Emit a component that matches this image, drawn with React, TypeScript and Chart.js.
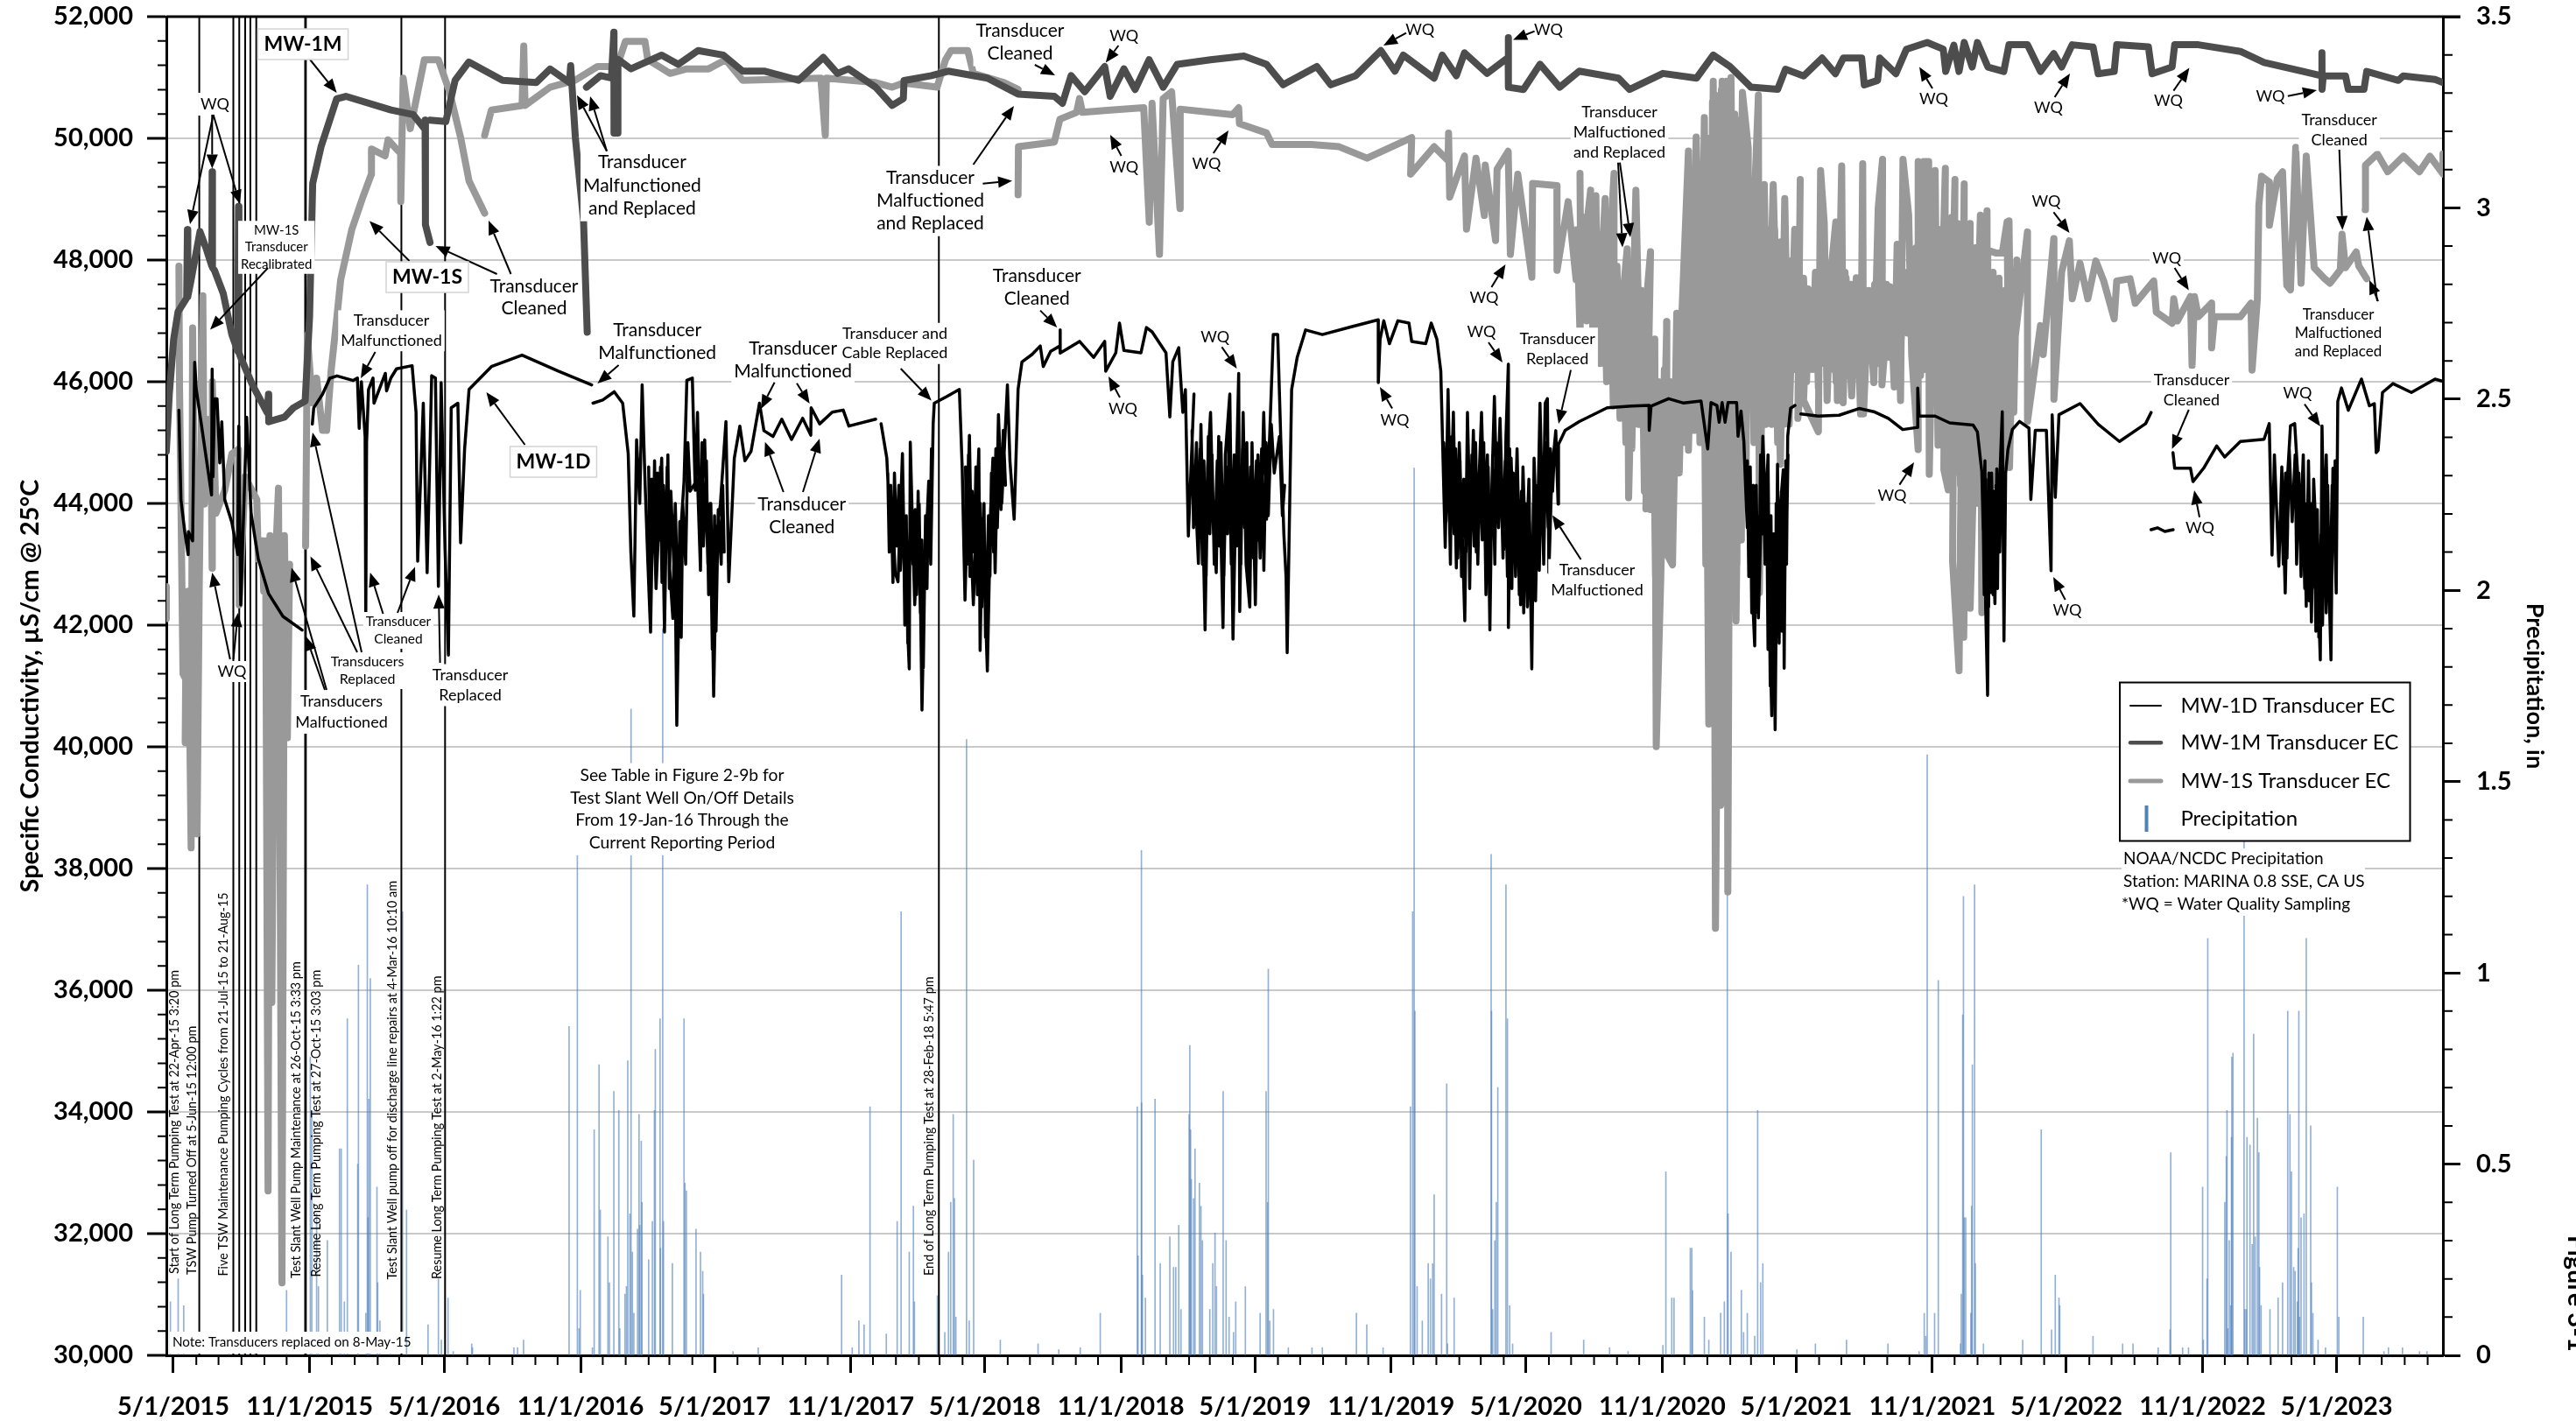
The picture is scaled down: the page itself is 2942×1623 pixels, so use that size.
import React, { useEffect, useRef } from "react";
import { Chart, registerables } from "chart.js";

Chart.register(...registerables);

// x values are days since 5/1/2015
const xMinDay = -9.46;
const xMaxDay = 3065.6;
const xTickDays = [0, 184, 366, 550, 731, 915, 1096, 1280, 1461, 1645, 1827, 2011, 2192, 2376, 2557, 2741, 2922];
const xTickLabels = ["5/1/2015", "11/1/2015", "5/1/2016", "11/1/2016", "5/1/2017", "11/1/2017", "5/1/2018", "11/1/2018", "5/1/2019", "11/1/2019", "5/1/2020", "11/1/2020", "5/1/2021", "11/1/2021", "5/1/2022", "11/1/2022", "5/1/2023"];
const eventDays = [-9, 35, 81, 89, 97, 104, 112, 178, 179, 308, 367, 1034];

const mw1dSeg2015a = [[7.5,45531],[10.2,44063],[15.4,43536],[20,43160],[20.3,43536],[26,43386],[28.8,46321],[31,45870],[51.6,44139],[52.4,46209],[53.5,44440],[55.6,45719],[59,45719],[62.7,44666],[65.4,45343],[69.4,44063],[79,43687],[87,43160],[88.3,45268],[91,42332],[99,45418],[105,43838],[114.7,43085],[128.5,42520],[148,42144],[173.9,41918]];
const mw1dSeg2015b = [[187.7,45305],[189.6,45570],[201.5,45795],[211.3,46058],[221,46096],[243,46020],[248.6,46061],[251,45233],[254,46000],[259,45100],[259.9,42110],[261,45000],[263.6,45873],[269.7,46061],[271,45647],[286.3,46137],[288,45850],[293.8,46061],[301.4,46212],[322.5,46264],[327.8,45497],[330,43050],[337.6,45647],[342.8,42862],[348.9,46099],[354,46061],[358,42636],[361.7,45986],[367,43240],[371.5,41507],[375.3,45572],[384.3,45647],[388,43352],[393.4,44895],[399.4,45873],[429.6,46249],[471,46437],[520,46174],[565,45948]];
const mw1dSeg2016 = [[566.8,45647],[580,45700],[595.5,45835],[606.9,45647],[614.4,44819],[618,43200],[622,42147],[625.7,45045],[630,44000],[633.2,45948],[637,44400],[641,43000],[644.6,41884],[648,44300],[652,42600],[659.6,44744],[663.4,41884],[667,44600],[670,43000],[674.7,42110],[677,43800],[680,40353],[684,43300],[689.8,44367],[693.6,46024],[701,46061],[704.9,44217],[708,45497],[711,43620],[717.7,45045],[722,43000],[726,44000],[729.8,40830],[734,43500],[738.9,43991],[746.4,45346],[750.2,42712],[757.7,44744],[765.2,45271],[772,44700],[780.3,44857],[791.7,45647],[797.7,45196],[810,45100],[821.8,45384],[835,45050],[850,45400],[861,45121],[861.5,45572],[873,45308],[890,45500],[904.8,45534],[912.4,45271],[948.6,45384]];
const mw1dSeg2017 = [[956,45308],[963.7,44744],[967,43900],[971,43991],[975,42862],[978.8,42712],[984.8,44819],[987,43300],[990,42486],[994,41282],[995.4,45007],[998,43800],[1001.4,42335],[1007.4,43991],[1011.2,40604],[1015,42862],[1020.3,44367],[1023,43000],[1026.3,45308],[1027.8,45647],[1045,45760],[1061.7,45873],[1065.5,44593],[1069.3,42411],[1075.3,45120],[1078,43200],[1080.6,42335],[1088,44894],[1089.7,41583],[1093,43750],[1099.5,41244],[1104,43900],[1107,44744],[1110,42860],[1114.5,45459],[1119,44000],[1126.6,45948],[1130,44700],[1135.7,43741],[1141,45873],[1146.2,46325],[1160,46450],[1171,46588],[1175,46250],[1185,46500],[1197.5,46588],[1197.8,46852],[1198,46470],[1224,46663],[1243,46400],[1258,46663],[1259.4,46174],[1273,46475],[1278,46964],[1284,46513],[1307,46475],[1314.4,46890],[1322,46820],[1340.8,46475],[1346,45421],[1350,46330],[1358,46560],[1363.5,45497],[1367,45870],[1371,43464],[1378.6,45798]];
const mw1dSeg2018 = [[1380,44300],[1384.6,43013],[1388,45300],[1393.6,41921],[1397,44600],[1401,45497],[1405,43500],[1408.7,42862],[1412,45100],[1417.8,41959],[1421,44800],[1427,45798],[1431.3,41770],[1435,44000],[1439,46137],[1440.4,42223],[1445,45497],[1449,43000],[1454,42298],[1457,45000],[1461.5,42335],[1465,44800],[1468,43100],[1472.8,45497],[1476.6,43740],[1482,45500],[1485.7,46776],[1491.7,46776],[1496,45000],[1500,43500],[1503,42787],[1504.5,41546],[1510.5,45873],[1518,46400],[1529.4,46851],[1552,46776],[1590,46900],[1627.5,47017],[1627.6,45986],[1630,46700],[1635,47002],[1642.6,46625],[1654,47002],[1669,46964],[1672.7,46663],[1691.6,46626],[1699.1,46964],[1706.7,46700],[1712,46174],[1718,43276],[1721.8,45873],[1725,43800],[1729,45500],[1733,42938],[1737,45000],[1741,43500],[1744.4,42072],[1748,45497],[1752,43400],[1756,45200],[1760,43200],[1767,45497],[1771,43700],[1775,44800],[1778.3,41921],[1781,44300],[1784.4,45760],[1788,43900],[1792,45400],[1797,43238],[1800,45100],[1803.2,46287],[1803.3,41959],[1807,44744],[1811,43100],[1815,44900],[1819.8,42335],[1823,44600],[1827,43000],[1831,44400],[1834.9,41282],[1838,44744],[1842,43200],[1846,45647],[1850,43500],[1853,45647],[1856,45722],[1858,42862],[1862,44500],[1867.3,45196],[1870.4,43991],[1871,44970],[1880,45200],[1899,45346],[1936.7,45572],[1970,45600],[1993.3,45610],[1993.5,45200],[1996,45600],[2019.7,45722],[2040,45650],[2063.5,45685],[2068,45290],[2072.5,44895],[2077,45657],[2085,45610],[2088,45335],[2092,45657],[2096,45335],[2100,45657],[2111.6,45657],[2113.5,45105],[2117.5,45519],[2121.4,45013],[2123.4,44370],[2126,43600],[2128,44100],[2131.3,44186],[2133,42500],[2136,41659],[2138,44300],[2141,42119],[2143.5,43300],[2147,45105],[2151,43818],[2154,44800],[2156,42100],[2159,40510],[2161,43500],[2163.6,40280],[2166.8,44645],[2169,41700],[2171,44000],[2174.6,44554],[2175.8,41291],[2178,44700],[2179,43000],[2180.6,45105],[2184.5,45565],[2190.4,45610]];
const mw1dSeg2020 = [[2198.3,45471],[2222,45435],[2250,45450],[2277,45560],[2296.9,45508],[2316.6,45398],[2336,45214],[2356,45250],[2356.2,45897],[2358,45435],[2379.7,45435],[2399.4,45324],[2431,45288],[2436.8,45178],[2442.8,44517],[2444.7,43563],[2447,44700],[2448,42300],[2450.6,40847],[2452.4,44500],[2454.6,42535],[2456,44500],[2458,43200],[2460.5,42352],[2463,44570],[2465,43300],[2467,44400],[2470.4,45508],[2472.7,41742],[2475,44500],[2478,44884],[2484,45214],[2493.7,45348],[2506.5,45238],[2509,44066],[2515,45200],[2530,45200],[2536.3,42894],[2537.8,45458],[2542,44100],[2547,45458],[2575.4,45641],[2600,45300],[2628.7,45018],[2664,45311],[2671.4,45494]];
const mw1dSeg2022a = [[2671.4,43568],[2680,43600],[2690,43540],[2701.2,43568]];
const mw1dSeg2022b = [[2701,44835],[2703.3,44579],[2724.6,44579],[2728,44359],[2742.4,44579],[2760,44945],[2770.8,44762],[2792,45018],[2824,45055],[2831,45311],[2834.8,43150],[2838,44800],[2844,42967],[2848,44600],[2852.6,42527],[2856,44500],[2859.7,45275],[2865.4,45311],[2869,44579],[2873,43500],[2877,44800],[2881,42308],[2884,44700],[2888,42051],[2891,44400],[2895,43300],[2900,41429],[2902.3,45275],[2905,43400],[2908,44800],[2911,43000],[2914.4,41429],[2917,44579],[2921.5,42527],[2923.6,45678],[2928.6,45897],[2937.8,45531],[2955.6,46044],[2966.3,45604],[2973,45640],[2975.5,44835],[2978,44870],[2984,45824],[2998.2,45970],[3023,45824],[3055,46044],[3065.7,46007]];
const mw1dBand2016 = [[642,44600],[644,42800],[646,44400],[648,43200],[650,44700],[652,42900],[654,44500],[656,43400],[658,44600],[660,42700],[662,44300],[665,43100],[668,44800],[670,42600],[672,44200],[676,43000],[678,44000],[682,42000],[684,43700],[686,41800],[688,44000],[692,43000],[695,45000],[698,44200],[708,44400],[712,42900],[714,45000],[716,43300],[720,44700],[723,42500],[725,44000],[728,41600],[731,43800],[733,41900],[736,43900],[740,43000],[742,44300],[744,43200]];
const mw1dBand2017a = [[965,44500],[967,43200],[969,44300],[972,42700],[974,44500],[977,43300],[980,44300],[982,42900],[986,44000],[988,42000],[990,43800],[992,41700],[996,44300],[999,43000],[1002,43900],[1004,42500],[1006,44200],[1009,42200],[1011,43400],[1013,41300],[1016,43800],[1018,42600],[1020,44300],[1022,43200],[1024,44900]];
const mw1dBand2017b = [[1070,44600],[1072,43000],[1074,44800],[1076,42800],[1079,44200],[1082,43200],[1084,44600],[1086,42500],[1090,44000],[1092,42300],[1095,44000],[1097,41800],[1101,43800],[1103,42800],[1105,44500],[1108,43200],[1111,44900],[1113,43600],[1116,45000],[1118,43900],[1121,45200],[1124,44300]];
const mw1dBand2018 = [[1376,45200],[1378,43600],[1382,45000],[1385,43400],[1387,44900],[1390,43000],[1392,44700],[1395,42800],[1398,45100],[1400,43500],[1403,44800],[1406,43000],[1410,44700],[1413,43300],[1415,45000],[1419,42800],[1422,44600],[1424,43500],[1426,45200],[1429,43000],[1433,44800],[1436,43300],[1438,45500],[1442,43000],[1444,44900],[1447,43600],[1450,45000],[1452,42800],[1455,44600],[1459,43100],[1463,44700],[1466,43400],[1470,44900],[1473,42900],[1476,45000],[1479,43800],[1483,45300],[1487,44500],[1494,45100],[1498,43800],[1501,44300]];
const mw1dBand2019 = [[1716,45000],[1719,43700],[1722,44800],[1725,43000],[1727,45100],[1730,43500],[1732,44900],[1735,43100],[1738,44700],[1740,42800],[1743,44400],[1746,43200],[1749,44900],[1751,42600],[1754,44800],[1757,43300],[1759,45000],[1762,43000],[1765,44700],[1768,43400],[1770,45000],[1773,42500],[1776,44600],[1779,42700],[1782,44800],[1785,43000],[1787,45000],[1790,43600],[1793,44600],[1796,43100],[1799,44700],[1802,42800],[1805,44900],[1808,42600],[1810,44500],[1813,42800],[1816,44300],[1818,42500],[1821,44200],[1824,42200],[1826,44000],[1829,42300],[1832,43700],[1835,41800],[1837,44000],[1840,42400],[1843,44300],[1845,42900],[1848,44700],[1851,43000],[1854,45000],[1857,43600],[1860,44900],[1863,44200],[1866,45000]];
const mw1dBand2020 = [[2126,44700],[2128,42800],[2130,44600],[2132,42200],[2134,44300],[2137,42200],[2139,43800],[2142,42800],[2144,44800],[2146,43500],[2148,44500],[2150,43000],[2152,44400],[2154,41600],[2155,43500],[2157,41000],[2158,43800],[2160,40800],[2162,43500],[2164,41300],[2165,44000],[2167,41900],[2168,43800],[2170,42300],[2172,44200],[2173,41900],[2175,43000],[2177,44300],[2179,43400],[2181,44800]];
const mw1dBand2021 = [[2444,44300],[2446,42500],[2448,44400],[2449,42000],[2451,44000],[2452,42300],[2453,44200],[2455,42800],[2456,43900],[2458,42500],[2459,44200],[2461,43000],[2462,44300],[2464,42600],[2465,44000],[2467,43200],[2469,44600],[2471,43900]];
const mw1dBand2023 = [[2848,43900],[2850,43000],[2853,44500],[2855,43100],[2858,44900],[2862,43700],[2866,44800],[2868,43000],[2871,44500],[2874,42800],[2876,44300],[2879,42600],[2882,44000],[2885,42400],[2887,44000],[2889,42600],[2892,43800],[2894,41900],[2896,43900],[2898,41800],[2901,43500],[2903,42000],[2906,44300],[2908,42200],[2910,44300],[2912,42500],[2914,43000],[2916,44300],[2918,43400],[2920,44700]];

const mw1mSeg2015 = [[-9.5,44854],[-5.5,45795],[0.4,46700],[6.3,47150],[18,47375],[19,48500],[19.5,47400],[24,47676],[36,48467],[44,48200],[52,47900],[52.4,49450],[52.8,47880],[55.6,47827],[67.4,47450],[79,46773],[87,46500],[88,48880],[88.5,46480],[91,46397],[107,45945],[126.6,45494],[128.5,45795],[128.8,45343],[150,45418],[162,45570],[178,45682],[184,47074],[188.2,49260],[199.5,49862],[220.6,50650],[233,50690],[294,50465],[324,50390],[339,50160],[340,50300],[340.5,48580],[346.6,48290]];
const mw1mSeg2016 = [[346.6,50300],[368,50276],[380.6,50955],[399,51255],[444.7,50954],[490,50916],[508.8,51140],[535,50916],[536.7,51195],[543,50013],[554,48658],[559,46814]];
const mw1mSeg2017 = [[558,50840],[577,51030],[591.7,50990],[595,51744],[595.2,50088],[600,50088],[600.5,51300],[618,51142],[659.6,51368],[682,51217],[708.7,51443],[742.6,51368],[769,51104],[799,51104],[844.4,50954],[878,51330],[897,51067],[912,51142],[948.6,50840],[971,50540],[986,50653],[987,50950],[1024,51030],[1046.6,51104],[1099.5,50990],[1141,50728],[1190,50690],[1201,50577],[1212.6,51030],[1231,50766],[1258,51180],[1265.4,50690],[1284,51142],[1299,50803],[1318,51292],[1337,50840],[1356,51217],[1401,51292],[1446,51353],[1476.6,51217],[1499,50880],[1544.5,51180],[1563.4,50880],[1597,51030],[1631,51443],[1650,51104],[1661.4,51368],[1703,50990],[1714,51368],[1733,51030],[1744,51405],[1774.5,51067],[1803,51330],[1803.2,51654],[1803.4,50840],[1823.6,50803],[1846,51217],[1872.6,50840],[1899,51104],[1952,50990],[1967,50803],[2012,51067],[2057.5,50990],[2080,51368],[2102.7,51180],[2131,50840]];
const mw1mSeg2021 = [[2131,50842],[2167,50806],[2177.5,51135],[2202,51025],[2227,51319],[2245,51062],[2255.7,51319],[2280.5,51319],[2284,50879],[2302,50952],[2305,51319],[2326.7,51062],[2341,51465],[2369,51575],[2390.7,51465],[2394,51099],[2405,51530],[2412,51099],[2419,51575],[2429.7,51172],[2436.8,51575],[2451,51172],[2472.4,51099],[2479.5,51538],[2504.4,51538],[2522,51099],[2540,51392],[2550.6,51172],[2564.8,51538],[2593,51502],[2600,51062],[2621.6,51099],[2625,51538],[2667.8,51502],[2672.8,51062],[2699.8,51172],[2703.3,51538],[2735.3,51538],[2792,51429],[2824,51245],[2877,51099],[2902,51026],[2902.2,51407],[2902.4,50806],[2904,51026],[2934,51026],[2937.8,50806],[2959,50806],[2962.7,51099],[3005.4,50952],[3012,51026],[3055,50967],[3065.7,50916]];

const mw1sSeg2015a = [[-9.5,42633],[-9.5,42106]];
const mw1sSeg2015b = [[7.5,47900],[8.3,45945],[13,41200],[16.1,41128],[17,41700],[16,40070],[20,42558],[24,38340],[26,46886],[32,38570],[35,42700],[39.8,47413],[41.8,43988],[45.7,45380],[51.6,44000],[52.4,42935],[52.6,46000],[57.5,43838],[69.4,44214],[79,44816],[88,44890],[89,42332],[97,44440],[103,44290],[112.7,44063],[114.7,43085],[120.6,43386],[122,42558],[124.6,43386],[127.9,32700],[130.5,43470],[133,35800],[137,42800],[142,44250],[146.7,31190],[150,43470],[154,40150],[157,43000]];
const mw1sSeg2015c = [[178.6,43300],[181,46770],[187.6,45650],[193.5,46060],[201.5,45200],[207,45200],[213,46170],[221,47075],[226,47676],[241,48500],[256,49035],[267.4,49410],[267.6,49825],[286,49712],[290,49975],[307,49750],[307.2,48960],[310.4,50990],[320,50160],[339,51292],[358,51292],[373,50766],[388,50013],[399.4,49300],[420.5,48770]];
const mw1sSeg2016 = [[420.5,50050],[429.6,50465],[471,50540],[473.3,51518],[475,50540],[508.8,50840],[542.7,50954],[572.9,51180],[599.3,51180],[610.6,51593],[637,51593],[640.8,51292],[671,51067],[693.6,51142],[723,51142],[746,51292],[769,50954],[874.6,50990],[880.6,50050],[882,50990],[948.6,50916],[971,50841],[986,50910],[1031.6,50841],[1043,51292],[1050.4,51443],[1073,51443],[1080.6,51067],[1122,50916],[1141,50803]];
const mw1sSeg2018 = [[1141,49072],[1141.5,49862],[1190,49938],[1197.5,50314],[1220,50427],[1224,50653],[1228,50427],[1265.4,50465],[1310.7,50502],[1318.2,48620],[1322,50577],[1332,48093],[1337,50653],[1348.4,50766],[1359.7,48846],[1360,50480],[1431,50389],[1439,50502],[1440,50240],[1476.6,50088],[1484,49900],[1537,49900],[1574.7,49862],[1612.4,49674],[1672.7,50013],[1671.2,49411],[1703,49862],[1721.8,49636],[1722.5,50088],[1724,49034],[1744,49712],[1746.7,48508],[1759.5,49674],[1770.8,48733],[1772,49560],[1786,48320],[1788,49490],[1803,49787],[1806,48093],[1816,49411],[1835,47718],[1836,49260],[1868.8,49223],[1869,47830],[1884,48959],[1894.7,47678]];
const mw1sSeg2020a = [[1900,49424],[1901,47678],[1914.4,49149],[1904.5,47678],[1921.5,49057],[1924,46667],[1934,49011],[1932,46300],[1946,49424],[1946,45748],[1963.7,48184],[1965.7,44094],[1975.5,49149],[1981,46024],[1995.3,48138],[1989,43910],[2001,46700],[2003,40005],[2009,42720],[2017.3,46989],[2017,43175],[2025,42991],[2030.7,47127],[2030.7,45000],[2046.5,49792],[2046.5,44875],[2057,50022],[2064,46346],[2068,50343],[2074,40373],[2080,50940],[2083,37018],[2092,50940],[2090,39040],[2098,50940],[2099.7,37615],[2104,51000],[2110.8,42070],[2119.4,50757],[2127.3,49838],[2127.3,46300],[2141,50711],[2142.3,42532],[2149,49240],[2153,45600],[2161,49240],[2170.7,44645],[2176.6,49011],[2182.5,45300],[2190,48505]];
const mw1sSeg2020b = [[2197.5,49325],[2194.3,45398],[2208,47526],[2202,45691],[2222,45177],[2225,49472],[2230,48600],[2233.8,45691],[2239.7,47900],[2245.6,48627],[2247.6,45691],[2253.5,49545],[2255.5,45655],[2259.4,47710],[2267,45765],[2273.2,47710],[2279,45471],[2281.9,49582],[2283,45471],[2289.8,47453],[2296.9,45985],[2302.8,48848],[2308.7,49655],[2307.9,45948],[2318.5,47563],[2324.5,45912],[2328.4,48260],[2333,45691],[2336.3,49655],[2344,48737],[2348.1,46425],[2356.8,44884],[2356.8,49618],[2360,46100],[2364,49618],[2371,49618],[2371.8,44480],[2379.7,49472],[2383.6,44957],[2393.5,49508],[2391.5,44554],[2397.4,44223],[2406.5,49325],[2403.3,43049],[2412,41250],[2419,49251],[2418.3,41801],[2427,48600],[2427,42278],[2440.8,48737],[2442.8,42205],[2449.8,48811],[2450.6,45398],[2450.8,48160],[2462.5,48114],[2470.4,48114],[2476.9,48627],[2480.2,44590],[2486.1,47820]];
const mw1sSeg2021 = [[2479.5,48645],[2482,46117],[2504.4,48462],[2504.5,45348],[2522,46923],[2525.7,46447],[2540,48352],[2540.2,45714],[2550.6,47802],[2561,48315],[2565,47363],[2575.4,47949],[2586,47363],[2596.8,47985],[2607.4,47656],[2621.6,47033],[2625,47656],[2643,47692],[2650,47290],[2675,47656],[2678.5,47143],[2699.8,46960],[2702,47363],[2707,47000],[2724.6,47399],[2726.8,46264],[2730,47399],[2735.3,47070],[2753,47290],[2753.2,46557],[2757,47070],[2792,47070],[2806.4,47290],[2807.8,46190],[2815,47363],[2817,48901],[2820.6,49377],[2831,49280],[2831.2,48571],[2842,49340],[2849,49450],[2854.7,47582],[2859.7,47509],[2866.8,49853],[2874,47619],[2881,49707],[2891.7,47875],[2906,47692],[2913,47619],[2927,47838],[2929.3,48425],[2934,47875],[2948.5,48132],[2952,47900],[2962.7,47692]];
const mw1sSeg2023 = [[2960.6,48828],[2961,49560],[2977,49744],[2991,49451],[3012.4,49707],[3033.8,49451],[3048,49707],[3065.7,49414],[3065.7,49744]];
const mw1sBand2020a = [[1896,48500],[1900,46800],[1905,48700],[1909,47000],[1914,48500],[1918,46500],[1923,48400],[1927,46300],[1932,48300],[1936,46000],[1941,48200],[1945,45600],[1950,47900],[1954,45400],[1958,47500],[1962,45000],[1966,47300],[1970,44900],[1975,47800],[1979,45300],[1983,47500],[1987,44200],[1991,47000],[1995,43900],[1999,46000],[2002,42800],[2006,46000],[2010,43400],[2014,46200],[2018,43500],[2022,46000],[2026,43700],[2030,46000],[2034,44500],[2038,46300],[2042,45000],[2046,47500]];
const mw1sBand2020b = [[2050,48800],[2054,45200],[2058,49000],[2062,45000],[2066,49500],[2070,43000],[2073,50000],[2076,42500],[2079,50600],[2082,41000],[2085,50700],[2088,42000],[2091,50800],[2094,41500],[2097,50800],[2100,42000],[2103,50700],[2106,42700],[2109,50400],[2112,43000],[2115,50300],[2118,43400],[2121,49800],[2124,44000],[2127,48800],[2131,49000],[2135,45000],[2139,48800],[2143,45200],[2147,48700],[2151,45300],[2155,48500],[2159,45300],[2163,48500],[2167,45000],[2171,48300],[2175,45300],[2179,48000],[2183,45600],[2187,48000]];
const mw1sBand2021a = [[2190,46200],[2194,47900],[2198,46300],[2202,47700],[2206,46000],[2210,47500],[2214,46200],[2218,47800],[2222,45900],[2226,47800],[2230,46300],[2234,47900],[2238,46200],[2242,47500],[2246,46000],[2250,47400],[2254,46300],[2258,47800],[2262,46100],[2266,47600],[2270,46400],[2274,47500],[2278,46200],[2282,47700],[2286,46300],[2290,47500],[2294,46500],[2298,47600],[2302,46300],[2306,47700],[2310,46400],[2314,47600],[2318,46400],[2322,47500],[2326,46300],[2330,47600],[2334,46700],[2338,47800],[2342,46800],[2346,48000],[2350,46400],[2354,48200],[2358,46500],[2362,48500],[2366,46200],[2370,48700],[2374,45900],[2378,48500],[2382,45800],[2386,48500],[2390,45500],[2394,48300],[2398,45000]];
const mw1sBand2021b = [[2402,48700],[2406,44500],[2410,48600],[2414,44300],[2418,48500],[2422,44000],[2426,48300],[2430,43800],[2434,48200],[2438,44000],[2442,48000],[2446,43500],[2450,47800],[2454,44000],[2458,47800],[2462,44300],[2466,47700],[2470,44600],[2474,47500],[2478,45000],[2482,47800],[2486,45500],[2490,48000]];

const precip2015 = [[-4,0.14],[6.5,0.20],[14,0.13],[75,0.01],[80,0.015],[95,0.02],[110,0.01],[152.9,0.17],[185,0.78],[187,0.64],[193.5,0.37],[196,0.18],[208,0.30],[224.4,0.54],[226.7,0.54],[231,0.14],[235,0.88],[249,0.5],[250,1.02]];
const precip2016 = [[260,0.11],[262,1.23],[263,0.36],[264,0.67],[266,0.985],[275,0.44],[276,0.19],[279,0.09],[293,0.04],[309.6,1.16],[315,0.38],[344,0.08],[358,0.2],[362,0.04],[371,0.15],[378,0.01],[403,0.03],[404,0.02],[460,0.02],[465,0.02],[473,0.04],[534.5,0.86],[545.7,1.31],[548,0.07],[549.6,0.17],[566,0.02],[568.4,0.59],[575,0.76],[576.7,0.38],[587,0.31],[589,0.19]];
const precip2017 = [[595,0.69],[601.7,0.64],[603,0.07],[610,0.16],[612,0.18],[613.8,0.77],[616.7,0.37],[618.2,1.69],[620,0.27],[622,0.11],[627,0.33],[629,0.63],[630,0.34],[632,0.56],[633,0.4],[642,0.25],[647,0.35],[649.8,0.64],[651,0.8],[657.4,0.88],[658,0.28],[661,1.9],[662,0.35],[674,0.24],[689.8,0.88],[691,0.45],[693,0.43],[706,0.33],[712,0.27],[715,0.22],[716,0.16],[756,0.01],[790,0.02],[902.6,0.21],[917,0.02],[926,0.09],[933,0.08],[941,0.65],[963,0.056],[977.7,0.35],[983,1.16],[994,0.27],[999.6,0.39],[1001,0.14]];
const precip2018 = [[1032,0.156],[1042,0.06],[1047,0.27],[1050,0.4],[1053.4,0.63],[1055,0.41],[1057,0.1],[1071.4,1.61],[1075,0.09],[1081,0.51],[1117,0.04],[1168,0.03],[1196,0.015],[1225,0.02],[1252,0.11],[1302,0.65],[1303,0.26],[1307.6,1.32],[1307.8,0.66],[1309,0.21],[1313,0.15],[1326,0.67],[1333,0.24],[1346,0.31],[1351,0.23],[1354,0.23],[1358,0.34],[1361,0.12],[1373,0.81],[1372,0.63],[1374,0.59],[1375,0.46],[1378,0.41],[1380,0.54],[1386,0.45],[1388,0.39],[1390,0.3],[1400,0.12],[1404,0.24],[1407,0.32],[1409,0.18],[1418,0.69],[1422,0.3],[1426,0.1],[1432,0.06],[1435,0.14]];
const precip2019 = [[1448,0.18],[1468,0.11],[1476,0.69],[1478,0.4],[1479,1.01],[1481,0.09],[1486,0.12],[1506,0.02],[1538,0.02],[1552,0.02],[1598,0.11],[1612,0.08],[1634,0.02],[1671,0.65],[1674,1.16],[1676,2.32],[1677,0.9],[1680,0.18],[1687,0.09],[1695,0.24],[1698,0.2],[1701,0.24],[1703,0.42],[1713,0.16],[1720,0.71],[1721,0.03],[1730,0.15]];
const precip2020 = [[1780,1.31],[1780.5,0.9],[1782,0.12],[1785,0.3],[1787,0.4],[1789,0.7],[1800,1.23],[1802,0.88],[1805,0.13],[1809,0.03],[1861,0.06],[1905,0.04],[1940,0.02],[1965,0.01],[2012,0.026],[2016,0.48],[2024,0.15],[2027,0.15],[2049,0.28],[2051,0.28],[2052,0.17],[2068,0.1],[2074,0.04],[2090,0.11],[2095,0.14],[2099,1.23],[2100,0.37],[2104,0.27],[2118,0.17],[2121,0.06],[2126,0.11],[2136,0.05],[2140,0.64],[2144,0.19],[2147,0.24]];
const precip2021 = [[2193,0.015],[2218,0.03],[2260,0.04],[2316,0.03],[2358,0.01],[2369,1.57],[2365,0.11],[2367,0.05],[2379,0.11],[2384,0.98],[2414,0.03],[2415,0.16],[2417,0.89],[2418,1.2],[2419,0.36],[2421,0.36],[2428,0.11],[2429,0.39],[2430,0.76],[2433,1.23],[2434,0.24],[2445,0.03],[2498,0.04],[2523,0.59],[2537,0.067],[2542,0.21],[2547,0.15],[2548,0.13]];
const precip2022 = [[2593,0.05],[2633,0.03],[2647,0.03],[2681,0.02],[2698,0.53],[2697,0.067],[2714,0.02],[2722,0.02],[2741,0.44],[2742,0.04],[2747,0.2],[2748,1.09],[2771,0.4],[2773,0.52],[2774,0.64],[2775,0.07],[2777,0.3],[2779,0.13],[2780,0.57],[2780.5,0.78],[2782,0.79],[2797,1.44],[2798,0.12],[2800,0.12],[2801,0.57],[2805,0.55],[2808,0.29],[2810,0.84],[2812,0.31],[2815,0.62],[2817,0.53],[2818,0.23],[2820,0.13]];
const precip2023 = [[2832,0.12],[2843,0.15],[2849,0.19],[2856,0.9],[2859,0.63],[2861,0.48],[2864,0.23],[2866,0.22],[2869,0.14],[2870,0.28],[2871,0.9],[2872,0.1],[2874,0.36],[2878,0.37],[2881,1.09],[2887,0.6],[2888,0.19],[2890,0.11],[2897,0.04],[2907,0.02],[2923,0.44],[2925,0.1],[2958,0.1],[2986,0.01],[2992,0.02],[3011,0.02],[3034,0.01],[3044,0.01]];

const legendLabels = ["MW-1D Transducer EC", "MW-1M Transducer EC", "MW-1S Transducer EC", "Precipitation"];
const rotatedNotes = [
  ["Start of Long Term Pumping Test at 22-Apr-15 3:20 pm", 199.6, 1455],
  ["TSW Pump Turned Off at 5-Jun-15 12:00 pm", 219, 1456],
  ["Five TSW Maintenance Pumping Cycles from 21-Jul-15 to 21-Aug-15", 255, 1457.5],
  ["Test Slant Well Pump Maintenance at 26-Oct-15 3:33 pm", 338, 1460],
  ["Resume Long Term Pumping Test at 27-Oct-15 3:03 pm", 361.6, 1458.5],
  ["Test Slant Well pump off for discharge line repairs at 4-Mar-16 10:10 am", 448, 1461.6],
  ["Resume Long Term Pumping Test at 2-May-16 1:22 pm", 499, 1461],
  ["End of Long Term Pumping Test at 28-Feb-18 5:47 pm", 1061, 1457],
];

type Note = { t: string[]; x: number; y: number; lh: number; s: number; a?: number[][] };
const notes: Note[] = [
  { t: ["WQ"], x: 245.5, y: 119, lh: 24, s: 18, a: [[243.6,131,217,256],[242.3,131,242.3,192.5],[243.6,131,274,233]] },
  { t: ["MW-1S","Transducer","Recalibrated"], x: 315.7, y: 263, lh: 19.5, s: 15, a: [[306,306,240,376.6]] },
  { t: ["Transducer","Cleaned"], x: 610, y: 327, lh: 25.5, s: 21, a: [[567.6,313,497.4,281],[583.5,313,558,252]] },
  { t: ["Transducer","Malfunctioned"], x: 447, y: 366.6, lh: 22.4, s: 18, a: [[428.6,402,412,432]] },
  { t: ["Transducer","Malfunctioned","and Replaced"], x: 733.4, y: 185.7, lh: 26.4, s: 21, a: [[693,172.6,659,108.8],[693,172.6,674,110]] },
  { t: ["Transducer","Malfunctioned"], x: 750.6, y: 377.6, lh: 25.5, s: 21, a: [[706.6,417,682.4,438]] },
  { t: ["Transducer","Malfunctioned"], x: 905.6, y: 398.5, lh: 25.5, s: 21, a: [[884.6,436.7,869,467],[910,437.8,924.7,461]] },
  { t: ["Transducer","Cleaned"], x: 915.8, y: 576, lh: 26.5, s: 21, a: [[894.8,562,873.7,504.7],[917,562,936,501]] },
  { t: ["Transducer and","Cable Replaced"], x: 1022, y: 381, lh: 22.5, s: 18, a: [[1028.7,421,1063.8,457.6]] },
  { t: ["WQ"], x: 265, y: 767, lh: 22, s: 18, a: [[262.8,753,242.3,654],[266.6,753,271.7,700]] },
  { t: ["Transducer","Cleaned"], x: 455, y: 710, lh: 20, s: 15.5, a: [[437.5,701,422.8,654],[454,700,474,647.5]] },
  { t: ["Transducers","Replaced"], x: 419.6, y: 756, lh: 20, s: 16, a: [[413,745,357,494],[408,745,354.6,635.5]] },
  { t: ["Transducer","Replaced"], x: 537, y: 771, lh: 23, s: 18, a: [[502.6,757,501,679]] },
  { t: ["Transducers","Malfuctioned"], x: 390, y: 801, lh: 24, s: 18, a: [[373,788,333,648.5],[371,788,349.5,727]] },
  { t: ["Transducer","Cleaned"], x: 1165, y: 35.6, lh: 26, s: 21, a: [[1181.8,74,1205,86]] },
  { t: ["WQ"], x: 1283.8, y: 40.8, lh: 22, s: 18, a: [[1277.4,52,1262.8,71.6]] },
  { t: ["WQ"], x: 1621.8, y: 34, lh: 22, s: 18, a: [[1606,37.6,1580,52]] },
  { t: ["WQ"], x: 1768.5, y: 34, lh: 22, s: 18, a: [[1752.6,35.6,1728,45.5]] },
  { t: ["Transducer","Malfuctioned","and Replaced"], x: 1062.5, y: 203.5, lh: 26.1, s: 21, a: [[1111.6,188,1158,121],[1122.4,209.7,1156,206.6]] },
  { t: ["WQ"], x: 1283.8, y: 191, lh: 22, s: 18, a: [[1280.6,178,1267.9,154]] },
  { t: ["WQ"], x: 1378, y: 187, lh: 22, s: 18, a: [[1385.8,175,1403,149]] },
  { t: ["Transducer","Cleaned"], x: 1184.3, y: 315, lh: 26.5, s: 21, a: [[1188,354.6,1207.3,374]] },
  { t: ["WQ"], x: 1282.5, y: 467, lh: 22, s: 18, a: [[1279,454,1266,430]] },
  { t: ["WQ"], x: 1387.8, y: 385.5, lh: 22, s: 18, a: [[1395.4,396.4,1412.6,421]] },
  { t: ["WQ"], x: 1593, y: 480, lh: 22, s: 18, a: [[1590,466.5,1576,442]] },
  { t: ["WQ"], x: 1692, y: 379, lh: 22, s: 18, a: [[1700,391,1716,414]] },
  { t: ["WQ"], x: 1695, y: 340, lh: 22, s: 18, a: [[1703.4,328,1719.4,302]] },
  { t: ["Transducer","Replaced"], x: 1778.7, y: 387, lh: 23.6, s: 18, a: [[1794,422.6,1780,484]] },
  { t: ["Transducer","Malfuctioned"], x: 1824, y: 651, lh: 23, s: 18, a: [[1805.5,639,1773,588.4]] },
  { t: ["Transducer","Malfuctioned","and Replaced"], x: 1849.5, y: 128, lh: 23, s: 18, a: [[1848,185.7,1853,282.4],[1850,185.7,1862,271]] },
  { t: ["WQ"], x: 2208.5, y: 113, lh: 22, s: 18, a: [[2207,101,2192,76.5]] },
  { t: ["WQ"], x: 2339.4, y: 123, lh: 22, s: 18, a: [[2346.6,111,2364,84]] },
  { t: ["WQ"], x: 2476.4, y: 115, lh: 22, s: 18, a: [[2482.4,103.6,2500.4,77.6]] },
  { t: ["WQ"], x: 2593, y: 110, lh: 22, s: 18, a: [[2612.8,109.7,2646,103]] },
  { t: ["Transducer","Cleaned"], x: 2671.7, y: 137, lh: 23, s: 18, a: [[2671.7,171,2675.3,262.8]] },
  { t: ["WQ"], x: 2337, y: 230, lh: 22, s: 18, a: [[2345.4,242.3,2363.5,266]] },
  { t: ["WQ"], x: 2474.6, y: 295, lh: 22, s: 18, a: [[2483.6,306,2499.8,331.6]] },
  { t: ["Transducer","Malfuctioned","and Replaced"], x: 2670.5, y: 360, lh: 21, s: 17, a: [[2715,344,2703,247.4],[2716,344,2706,320]] },
  { t: ["Transducer","Cleaned"], x: 2503, y: 433.7, lh: 23, s: 18, a: [[2499.8,468,2480.6,512.8]] },
  { t: ["WQ"], x: 2624, y: 449, lh: 22, s: 18, a: [[2632,461.7,2650,487]] },
  { t: ["WQ"], x: 2161, y: 566, lh: 22, s: 18, a: [[2169.4,553.6,2186,528]] },
  { t: ["WQ"], x: 2512.5, y: 603.6, lh: 22, s: 18, a: [[2512,590.8,2506,560]] },
  { t: ["WQ"], x: 2361, y: 697, lh: 22, s: 18, a: [[2358.7,685,2345,659]] },
  { t: ["See Table in Figure 2-9b for","Test Slant Well On/Off Details","From 19-Jan-16 Through the","Current Reporting Period"], x: 779, y: 885.5, lh: 25.8, s: 19.3 },
];
const wellTags = [["MW-1M", 346, 50, 354, 68, 384.6, 106], ["MW-1S", 488, 316, 467.5, 298, 422, 252.6], ["MW-1D", 632, 527, 599.5, 508, 555.5, 448]];

const FONT = "Lato, Carlito, sans-serif";
const seg = (...parts: number[][][]) => {
  const out: any[] = [];
  parts.forEach((p, i) => {
    if (i) out.push({ x: p[0][0] - 0.001, y: null });
    p.forEach(([x, y]) => out.push({ x, y }));
  });
  return out;
};

function arrow(c: CanvasRenderingContext2D, x1: number, y1: number, x2: number, y2: number) {
  const ang = Math.atan2(y2 - y1, x2 - x1);
  const L = 16, W = 6.5;
  const bx = x2 - L * Math.cos(ang), by = y2 - L * Math.sin(ang);
  c.strokeStyle = "#000"; c.lineWidth = 2;
  c.beginPath(); c.moveTo(x1, y1); c.lineTo(bx, by); c.stroke();
  c.fillStyle = "#000";
  c.beginPath(); c.moveTo(x2, y2);
  c.lineTo(bx + W * Math.sin(ang), by - W * Math.cos(ang));
  c.lineTo(bx - W * Math.sin(ang), by + W * Math.cos(ang));
  c.closePath(); c.fill();
}

const minorTicks = {
  id: "minorTicks",
  afterDatasetsDraw(chart: any) {
    const c = chart.ctx, a = chart.chartArea;
    const { x, y, y1 } = chart.scales;
    c.save();
    c.strokeStyle = "#000"; c.lineWidth = 2;
    c.beginPath();
    for (let v = 30000; v <= 52000; v += 400) { if (v % 2000) { const p = y.getPixelForValue(v); c.moveTo(a.left - 10, p); c.lineTo(a.left, p); } }
    for (let i = 0; i <= 35; i++) { if (i % 5) { const p = y1.getPixelForValue(i / 10); c.moveTo(a.right, p); c.lineTo(a.right + 11, p); } }
    for (let yr = 2015, m = 4; yr < 2023 || m < 9; m === 11 ? (yr++, m = 0) : m++) {
      const d = (Date.UTC(yr, m, 1) - Date.UTC(2015, 4, 1)) / 864e5;
      if (!xTickDays.includes(d)) { const p = x.getPixelForValue(d); c.moveTo(p, a.bottom); c.lineTo(p, a.bottom + 11); }
    }
    c.stroke();
    c.lineWidth = 3;
    c.beginPath(); c.moveTo(a.left, a.top); c.lineTo(a.right + 20, a.top); c.stroke();
    c.restore();
  },
};

const annotations = {
  id: "annotations",
  afterDraw(chart: any) {
    const c: CanvasRenderingContext2D = chart.ctx;
    c.save();
    c.textAlign = "center"; c.textBaseline = "middle";
    notes.forEach((n) => {
      c.font = `${n.s}px ${FONT}`;
      const w = Math.max(...n.t.map((s) => c.measureText(s).width));
      c.fillStyle = "#fff";
      c.fillRect(n.x - w / 2 - 3, n.y - n.lh / 2 - 1, w + 6, n.lh * n.t.length + 2);
    });
    c.fillStyle = "#fff"; c.fillRect(194, 1521, 268, 25);
    c.fillStyle = "#000"; c.textAlign = "left";
    c.font = `14.4px ${FONT}`;
    rotatedNotes.forEach(([t, x, y]: any) => {
      c.save(); c.translate(x, y); c.rotate(-Math.PI / 2); c.fillText(t, 0, 0); c.restore();
    });
    c.font = `15.2px ${FONT}`;
    c.fillText("Note: Transducers replaced on 8-May-15", 197, 1533);

    c.textAlign = "center";
    notes.forEach((n) => {
      c.fillStyle = "#000"; c.font = `${n.s}px ${FONT}`;
      n.t.forEach((s, i) => c.fillText(s, n.x, n.y + i * n.lh));
      (n.a || []).forEach(([a, b, d, e]) => arrow(c, a, b, d, e));
    });
    wellTags.forEach(([t, x, y, a, b, d, e]: any) => {
      arrow(c, a, b, d, e);
      c.font = `bold 23px ${FONT}`;
      const w = c.measureText(t).width + 14;
      c.fillStyle = "#fff"; c.strokeStyle = "#d4d4d4"; c.lineWidth = 1.5;
      c.fillRect(x - w / 2, y - 17, w, 35); c.strokeRect(x - w / 2, y - 17, w, 35);
      c.fillStyle = "#000"; c.fillText(t, x, y + 1);
    });
    c.fillStyle = "#fff"; c.fillRect(2421, 779.5, 331.5, 181);
    c.strokeStyle = "#000"; c.lineWidth = 2; c.strokeRect(2421, 779.5, 331.5, 181);
    const rows = [806, 848.3, 892, 935.4];
    c.textAlign = "left"; c.font = `24px ${FONT}`;
    legendLabels.forEach((l, i) => { c.fillStyle = "#000"; c.fillText(l, 2490.4, rows[i]); });
    [["#000", 2], ["#4d4d4d", 4.5], ["#999999", 5]].forEach(([col, w]: any, i) => {
      c.strokeStyle = col; c.lineWidth = w; c.lineCap = "round";
      c.beginPath(); c.moveTo(2433, rows[i]); c.lineTo(2468, rows[i]); c.stroke();
    });
    c.fillStyle = "#4f81bd"; c.fillRect(2449.5, 920, 4, 30);
    c.fillStyle = "#fff"; c.fillRect(2423, 969, 278, 77);
    c.fillStyle = "#000"; c.font = `19px ${FONT}`;
    c.fillText("NOAA/NCDC Precipitation", 2425, 981);
    c.fillText("Station: MARINA 0.8 SSE, CA US", 2425, 1007);
    c.fillText("*WQ = Water Quality Sampling", 2423, 1033);
    c.save(); c.translate(2933, 1411); c.rotate(Math.PI / 2);
    c.textBaseline = "alphabetic"; c.font = `bold 29px ${FONT}`; c.fillText("Figure 3-1", 0, 0); c.restore();
    c.restore();
  },
};

export default function App() {
  const ref = useRef<HTMLCanvasElement>(null);
  useEffect(() => {
    const tickFont = { family: FONT, size: 29, weight: "bold" as const };
    const lineBase = { type: "line" as const, pointRadius: 0, tension: 0, spanGaps: false, borderCapStyle: "round" as const, borderJoinStyle: "round" as const, xAxisID: "x", yAxisID: "y" };
    const events = eventDays.map((d, i) => ({
      ...lineBase, label: `Event ${i + 1}`, order: 5, borderColor: "#000", borderWidth: 2, borderCapStyle: "butt" as const,
      data: [{ x: d, y: 30000 }, { x: d, y: 52000 }],
    }));
    const chart = new Chart(ref.current!, {
      type: "line",
      data: {
        datasets: [
          { ...lineBase, label: legendLabels[0], order: 2, borderColor: "#000", borderWidth: 3.5, data: seg(mw1dSeg2015a, mw1dSeg2015b, mw1dSeg2016, mw1dSeg2017, mw1dSeg2018, mw1dSeg2020, mw1dSeg2022a, mw1dSeg2022b, mw1dBand2016, mw1dBand2017a, mw1dBand2017b, mw1dBand2018, mw1dBand2019, mw1dBand2020, mw1dBand2021, mw1dBand2023) },
          { ...lineBase, label: legendLabels[1], order: 3, borderColor: "#4d4d4d", borderWidth: 8, data: seg(mw1mSeg2015, mw1mSeg2016, mw1mSeg2017, mw1mSeg2021) },
          { ...lineBase, label: legendLabels[2], order: 4, borderColor: "#999999", borderWidth: 8, data: seg(mw1sSeg2015a, mw1sSeg2015b, mw1sSeg2015c, mw1sSeg2016, mw1sSeg2018, mw1sSeg2020a, mw1sSeg2020b, mw1sSeg2021, mw1sSeg2023, mw1sBand2020a, mw1sBand2020b, mw1sBand2021a, mw1sBand2021b) },
          ...events,
          {
            type: "bar" as const, label: legendLabels[3], order: 6, xAxisID: "x", yAxisID: "y1", backgroundColor: "rgba(79,129,189,0.62)", barThickness: 1,
            data: [...precip2015, ...precip2016, ...precip2017, ...precip2018, ...precip2019, ...precip2020, ...precip2021, ...precip2022, ...precip2023].map(([x, y]) => ({ x, y })),
          },
        ] as any,
      },
      options: {
        animation: false, responsive: false, normalized: false,
        layout: { padding: { top: 19, left: 0, right: 0, bottom: 0 } },
        plugins: { legend: { display: false }, tooltip: { enabled: false }, title: { display: false } },
        scales: {
          x: {
            type: "linear", position: "bottom", min: xMinDay, max: xMaxDay, offset: false,
            grid: { drawOnChartArea: false, offset: false, tickLength: 20, tickColor: "#000", tickWidth: 3 },
            border: { color: "#000", width: 3 },
            afterBuildTicks: (s: any) => { s.ticks = xTickDays.map((value) => ({ value })); },
            afterFit: (s: any) => { s.height = 75; s.paddingLeft = 0; s.paddingRight = 0; },
            ticks: { autoSkip: false, maxRotation: 0, padding: 21, color: "#000", font: tickFont, callback: (v: any) => xTickLabels[xTickDays.indexOf(v)] },
          },
          y: {
            type: "linear", position: "left", min: 30000, max: 52000,
            grid: { color: "#c9c9c9", lineWidth: 2, tickLength: 22, tickColor: "#000", tickWidth: 3 },
            border: { color: "#000", width: 3 },
            afterFit: (s: any) => { s.width = 190; s.paddingTop = 0; s.paddingBottom = 0; },
            ticks: { stepSize: 2000, padding: 16, color: "#000", font: tickFont, callback: (v: any) => Number(v).toLocaleString("en-US") },
            title: { display: true, text: "Specific Conductivity, µS/cm @ 25°C", color: "#000", font: { family: FONT, size: 28.8, weight: "bold" }, padding: { top: 17, bottom: 0 } },
          },
          y1: {
            type: "linear", position: "right", min: 0, max: 3.5,
            grid: { drawOnChartArea: false, tickLength: 20, tickColor: "#000", tickWidth: 3 },
            border: { color: "#000", width: 3 },
            afterFit: (s: any) => { s.width = 152; s.paddingTop = 0; s.paddingBottom = 0; },
            ticks: { stepSize: 0.5, padding: 18, color: "#000", font: tickFont, callback: (v: any) => String(v) },
            title: { display: true, text: "Precipitation, in", color: "#000", font: { family: FONT, size: 27, weight: "bold" }, padding: { top: 31, bottom: 0 } },
          },
        },
      },
      plugins: [minorTicks, annotations],
    } as any);
    return () => chart.destroy();
  }, []);
  return (
    <div style={{ position: "fixed", left: 0, top: 0, width: 2942, height: 1623, background: "#fff" }}>
      <canvas ref={ref} width={2942} height={1623} style={{ display: "block", width: 2942, height: 1623 }} />
    </div>
  );
}
